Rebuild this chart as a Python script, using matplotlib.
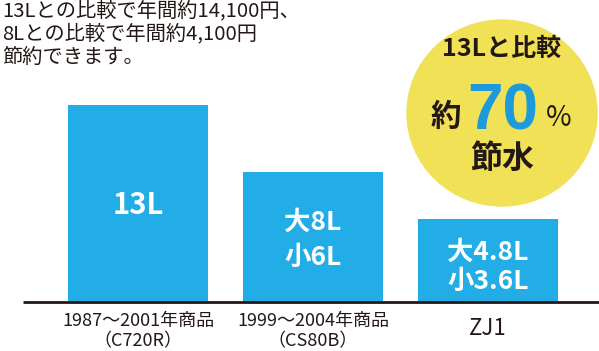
import matplotlib
matplotlib.use("Agg")
import matplotlib.pyplot as plt
from matplotlib.patches import Ellipse
from matplotlib import font_manager

plt.rcParams['font.family'] = ['Noto Sans CJK JP', 'DejaVu Sans']

# data
categories = ["1987〜2001年商品\n（C720R）", "1999〜2004年商品\n（CS80B）", "ZJ1"]
heights = [13.0, 8.6, 5.5]          # bar heights as drawn (relative)
bar_labels = ["13L", "大8L\n小6L", "大4.8L\n小3.6L"]
headline = ["13Lとの比較で年間約14,100円、", "8Lとの比較で年間約4,100円", "節約できます。"]

BLUE = "#22ADE6"
YELLOW = "#F0E157"
DARK = "#231815"

installed = {f.name for f in font_manager.fontManager.ttflist}
if "Liberation Sans Narrow" in installed:
    big_family, big_size = "Liberation Sans Narrow", 54
else:
    big_family, big_size = "Liberation Sans", 46

W, H = 599, 351
fig = plt.figure(figsize=(W / 100, H / 100), dpi=100)
ax = fig.add_axes([0, 0, 1, 1])
unit_x = 175.0
unit_y = 197.0 / 13.0
c0 = 138.0
base_px = 49.0
ax.set_xlim(-c0 / unit_x, (W - c0) / unit_x)
ax.set_ylim(-base_px / unit_y, (H - base_px) / unit_y)
ax.axis("off")

x = list(range(len(categories)))
ax.bar(x, heights, width=0.8, color=BLUE, zorder=2)
ax.hlines(0, (23 - c0) / unit_x, (W - c0) / unit_x, color=DARK, lw=2, zorder=3)

# bar labels
label_y = [heights[0] - 6.6, heights[1] - 4.5, heights[2] - 3.2]
spacing = [1.2, 1.35, 1.12]
for xi, lab, ly, fs, ls in zip(x, bar_labels, label_y, [21, 19, 19], spacing):
    ax.text(xi, ly, lab, ha="center", va="center", color="white",
            fontsize=fs, fontweight="bold", linespacing=ls, zorder=4)

# category labels
for xi, lab in zip(x, categories):
    if "\n" in lab:
        ax.text(xi, -0.65, lab, ha="center", va="top", color=DARK,
                fontsize=13, linespacing=1.2)
    else:
        ax.text(xi, -1.0, lab, ha="center", va="top", color=DARK, fontsize=16)

# overlay axes in pixel coordinates for decorations
ov = fig.add_axes([0, 0, 1, 1])
ov.set_xlim(0, W)
ov.set_ylim(H, 0)
ov.axis("off")
ov.patch.set_alpha(0)

for i, line in enumerate(headline):
    ov.text(2, 11 + i * 23, line, ha="left", va="center", color=DARK, fontsize=14.6)

ov.add_patch(Ellipse((502, 113), 190, 186, color=YELLOW, zorder=1))
ov.text(502, 49, "13Lと比較", ha="center", va="center", color=DARK,
        fontsize=18, fontweight="bold", zorder=2)
ov.text(446, 117, "約", ha="center", va="center", color=DARK,
        fontsize=22, fontweight="bold", zorder=2)
ov.text(503, 129, "70", ha="center", va="baseline", color="#1C9AD9",
        fontsize=big_size, fontweight="bold",
        family=[big_family, "DejaVu Sans"], zorder=2)
ov.text(559, 118, "%", ha="center", va="center", color=DARK,
        fontsize=20, zorder=2)
ov.text(502, 159, "節水", ha="center", va="center", color=DARK,
        fontsize=23, fontweight="bold", zorder=2)

fig.savefig("out.png", dpi=100)
